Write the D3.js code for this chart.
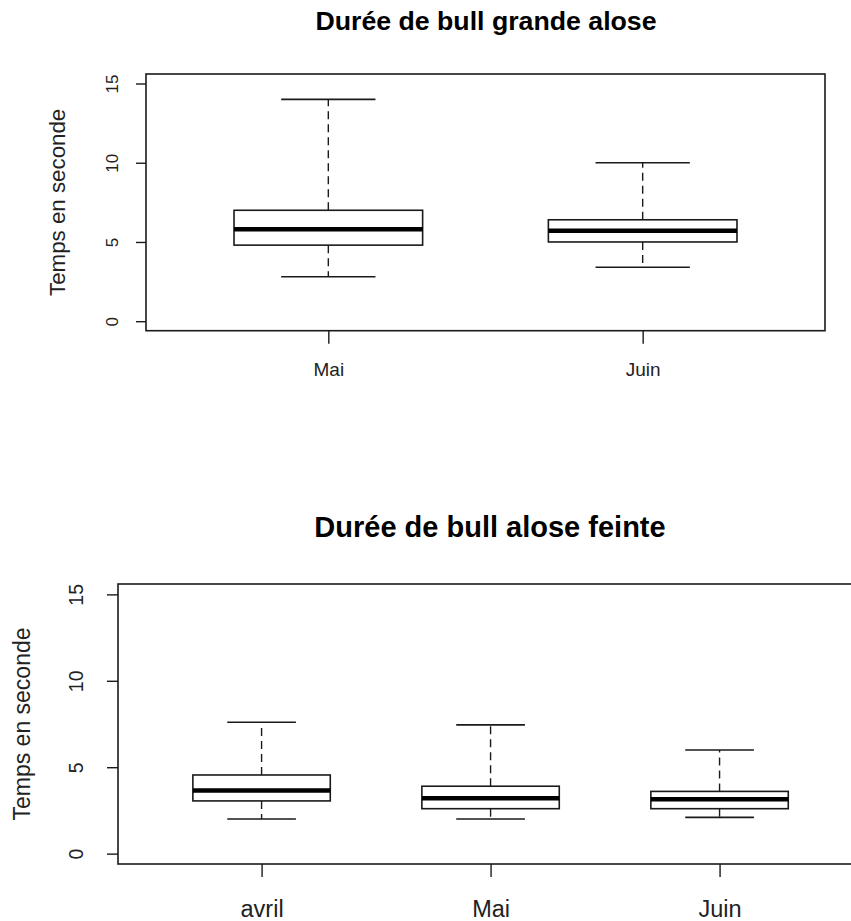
<!DOCTYPE html>
<html lang="fr">
<head>
<meta charset="utf-8">
<title>Durée de bull</title>
<script src="https://cdn.jsdelivr.net/npm/d3@7/dist/d3.min.js"></script>
<style>
  body { margin: 0; background: #fff; }
  svg { display: block; font-family: "Liberation Sans", Arial, sans-serif; }
</style>
</head>
<body>
<script>
// grande alose
var grandeMonths = ["Mai", "Juin"];
var grandeLow  = [2.8, 3.4];
var grandeQ1   = [4.8, 5.0];
var grandeMed  = [5.8, 5.7];
var grandeQ3   = [7.0, 6.4];
var grandeHigh = [14, 10];

// alose feinte
var feinteMonths = ["avril", "Mai", "Juin"];
var feinteLow  = [2.0, 2.0, 2.1];
var feinteQ1   = [3.05, 2.6, 2.6];
var feinteMed  = [3.65, 3.2, 3.15];
var feinteQ3   = [4.55, 3.9, 3.6];
var feinteHigh = [7.6, 7.45, 6.0];

var yTicks = [0, 5, 10, 15];

var w = 851, h = 921;
var ink = "#1a1a1a";

var svg = d3.select("body").append("svg")
    .attr("width", w)
    .attr("height", h);

function rows(months, low, q1, med, q3, high) {
    return months.map(function (m, i) {
        return {pos: i + 1, name: m, low: low[i], q1: q1[i], med: med[i], q3: q3[i], high: high[i]};
    });
}

function panel(o) {
    var x = d3.scaleLinear().domain(o.xDomain).range([o.left, o.right]);
    var y = d3.scaleLinear().domain([-0.6, 15.6]).range([o.bottom, o.top]);
    var g = svg.append("g");

    // title
    g.append("text")
        .attr("x", o.titleX)
        .attr("y", o.titleY)
        .attr("text-anchor", "middle")
        .attr("font-weight", "bold")
        .attr("font-size", o.titleSize + "px")
        .attr("fill", "#000")
        .text(o.title);

    // y label
    g.append("text")
        .attr("transform", "translate(" + o.ylabX + "," + (o.top + o.bottom) / 2 + ") rotate(-90)")
        .attr("text-anchor", "middle")
        .attr("font-size", o.ylabSize + "px")
        .attr("fill", "#222")
        .text("Temps en seconde");

    // y axis
    var ya = g.append("g")
        .attr("transform", "translate(" + o.left + ",0)")
        .call(d3.axisLeft(y).tickValues(yTicks).tickSize(o.yTick).tickSizeOuter(0));
    ya.select(".domain").remove();
    ya.selectAll("line").attr("stroke", ink).attr("stroke-width", 1.4);
    ya.selectAll("text")
        .attr("x", null).attr("dy", null)
        .attr("text-anchor", "middle")
        .attr("transform", "translate(" + (-o.yGap) + ",0) rotate(-90)")
        .attr("font-size", o.yTickSize + "px")
        .attr("font-family", "\"Liberation Sans\", Arial, sans-serif")
        .attr("fill", "#222");

    // x axis
    var xa = g.append("g")
        .attr("transform", "translate(0," + o.bottom + ")")
        .call(d3.axisBottom(x)
            .tickValues(o.data.map(function (d) { return d.pos; }))
            .tickFormat(function (d) { return o.data[d - 1].name; })
            .tickSize(o.xTick).tickSizeOuter(0));
    xa.select(".domain").remove();
    xa.selectAll("line").attr("stroke", ink).attr("stroke-width", 1.4);
    xa.selectAll("text")
        .attr("y", o.xGap).attr("dy", null)
        .attr("font-size", o.xTickSize + "px")
        .attr("font-family", "\"Liberation Sans\", Arial, sans-serif")
        .attr("fill", "#222");

    var bw = o.boxWidth / 2, cw = o.boxWidth / 4;
    var boxes = g.selectAll(".box").data(o.data).enter().append("g").attr("class", "box");

    // whiskers
    boxes.append("line")
        .attr("x1", function (d) { return x(d.pos); })
        .attr("x2", function (d) { return x(d.pos); })
        .attr("y1", function (d) { return y(d.q3); })
        .attr("y2", function (d) { return y(d.high); })
        .attr("stroke", ink).attr("stroke-width", 1.4).attr("stroke-dasharray", "8,5");
    boxes.append("line")
        .attr("x1", function (d) { return x(d.pos); })
        .attr("x2", function (d) { return x(d.pos); })
        .attr("y1", function (d) { return y(d.q1); })
        .attr("y2", function (d) { return y(d.low); })
        .attr("stroke", ink).attr("stroke-width", 1.4).attr("stroke-dasharray", "8,5");

    // caps
    ["high", "low"].forEach(function (k) {
        boxes.append("line")
            .attr("x1", function (d) { return x(d.pos - cw); })
            .attr("x2", function (d) { return x(d.pos + cw); })
            .attr("y1", function (d) { return y(d[k]); })
            .attr("y2", function (d) { return y(d[k]); })
            .attr("stroke", ink).attr("stroke-width", 1.6);
    });

    // box
    boxes.append("rect")
        .attr("x", function (d) { return x(d.pos - bw); })
        .attr("width", function (d) { return x(d.pos + bw) - x(d.pos - bw); })
        .attr("y", function (d) { return y(d.q3); })
        .attr("height", function (d) { return y(d.q1) - y(d.q3); })
        .attr("fill", "#fff").attr("stroke", ink).attr("stroke-width", 1.6);

    // median
    boxes.append("line")
        .attr("x1", function (d) { return x(d.pos - bw); })
        .attr("x2", function (d) { return x(d.pos + bw); })
        .attr("y1", function (d) { return y(d.med); })
        .attr("y2", function (d) { return y(d.med); })
        .attr("stroke", "#000").attr("stroke-width", 4.5);

    // frame
    g.append("rect")
        .attr("x", o.left).attr("y", o.top)
        .attr("width", o.right - o.left).attr("height", o.bottom - o.top)
        .attr("fill", "none").attr("stroke", ink).attr("stroke-width", 1.6);
}

panel({
    title: "Durée de bull grande alose",
    data: rows(grandeMonths, grandeLow, grandeQ1, grandeMed, grandeQ3, grandeHigh),
    xDomain: [0.42, 2.58],
    left: 146, right: 825, top: 74, bottom: 330.7,
    titleX: 486, titleY: 30, titleSize: 26.7,
    ylabX: 65, ylabSize: 22.3,
    yTick: 10, yGap: 28, yTickSize: 17,
    xTick: 13, xGap: 45, xTickSize: 19,
    boxWidth: 0.6
});

panel({
    title: "Durée de bull alose feinte",
    data: rows(feinteMonths, feinteLow, feinteQ1, feinteMed, feinteQ3, feinteHigh),
    xDomain: [0.373, 3.622],
    left: 118, right: 862, top: 584, bottom: 864,
    titleX: 490, titleY: 537, titleSize: 29,
    ylabX: 30, ylabSize: 23,
    yTick: 11, yGap: 35.5, yTickSize: 19.5,
    xTick: 13, xGap: 53, xTickSize: 23.5,
    boxWidth: 0.6
});
</script>
</body>
</html>
